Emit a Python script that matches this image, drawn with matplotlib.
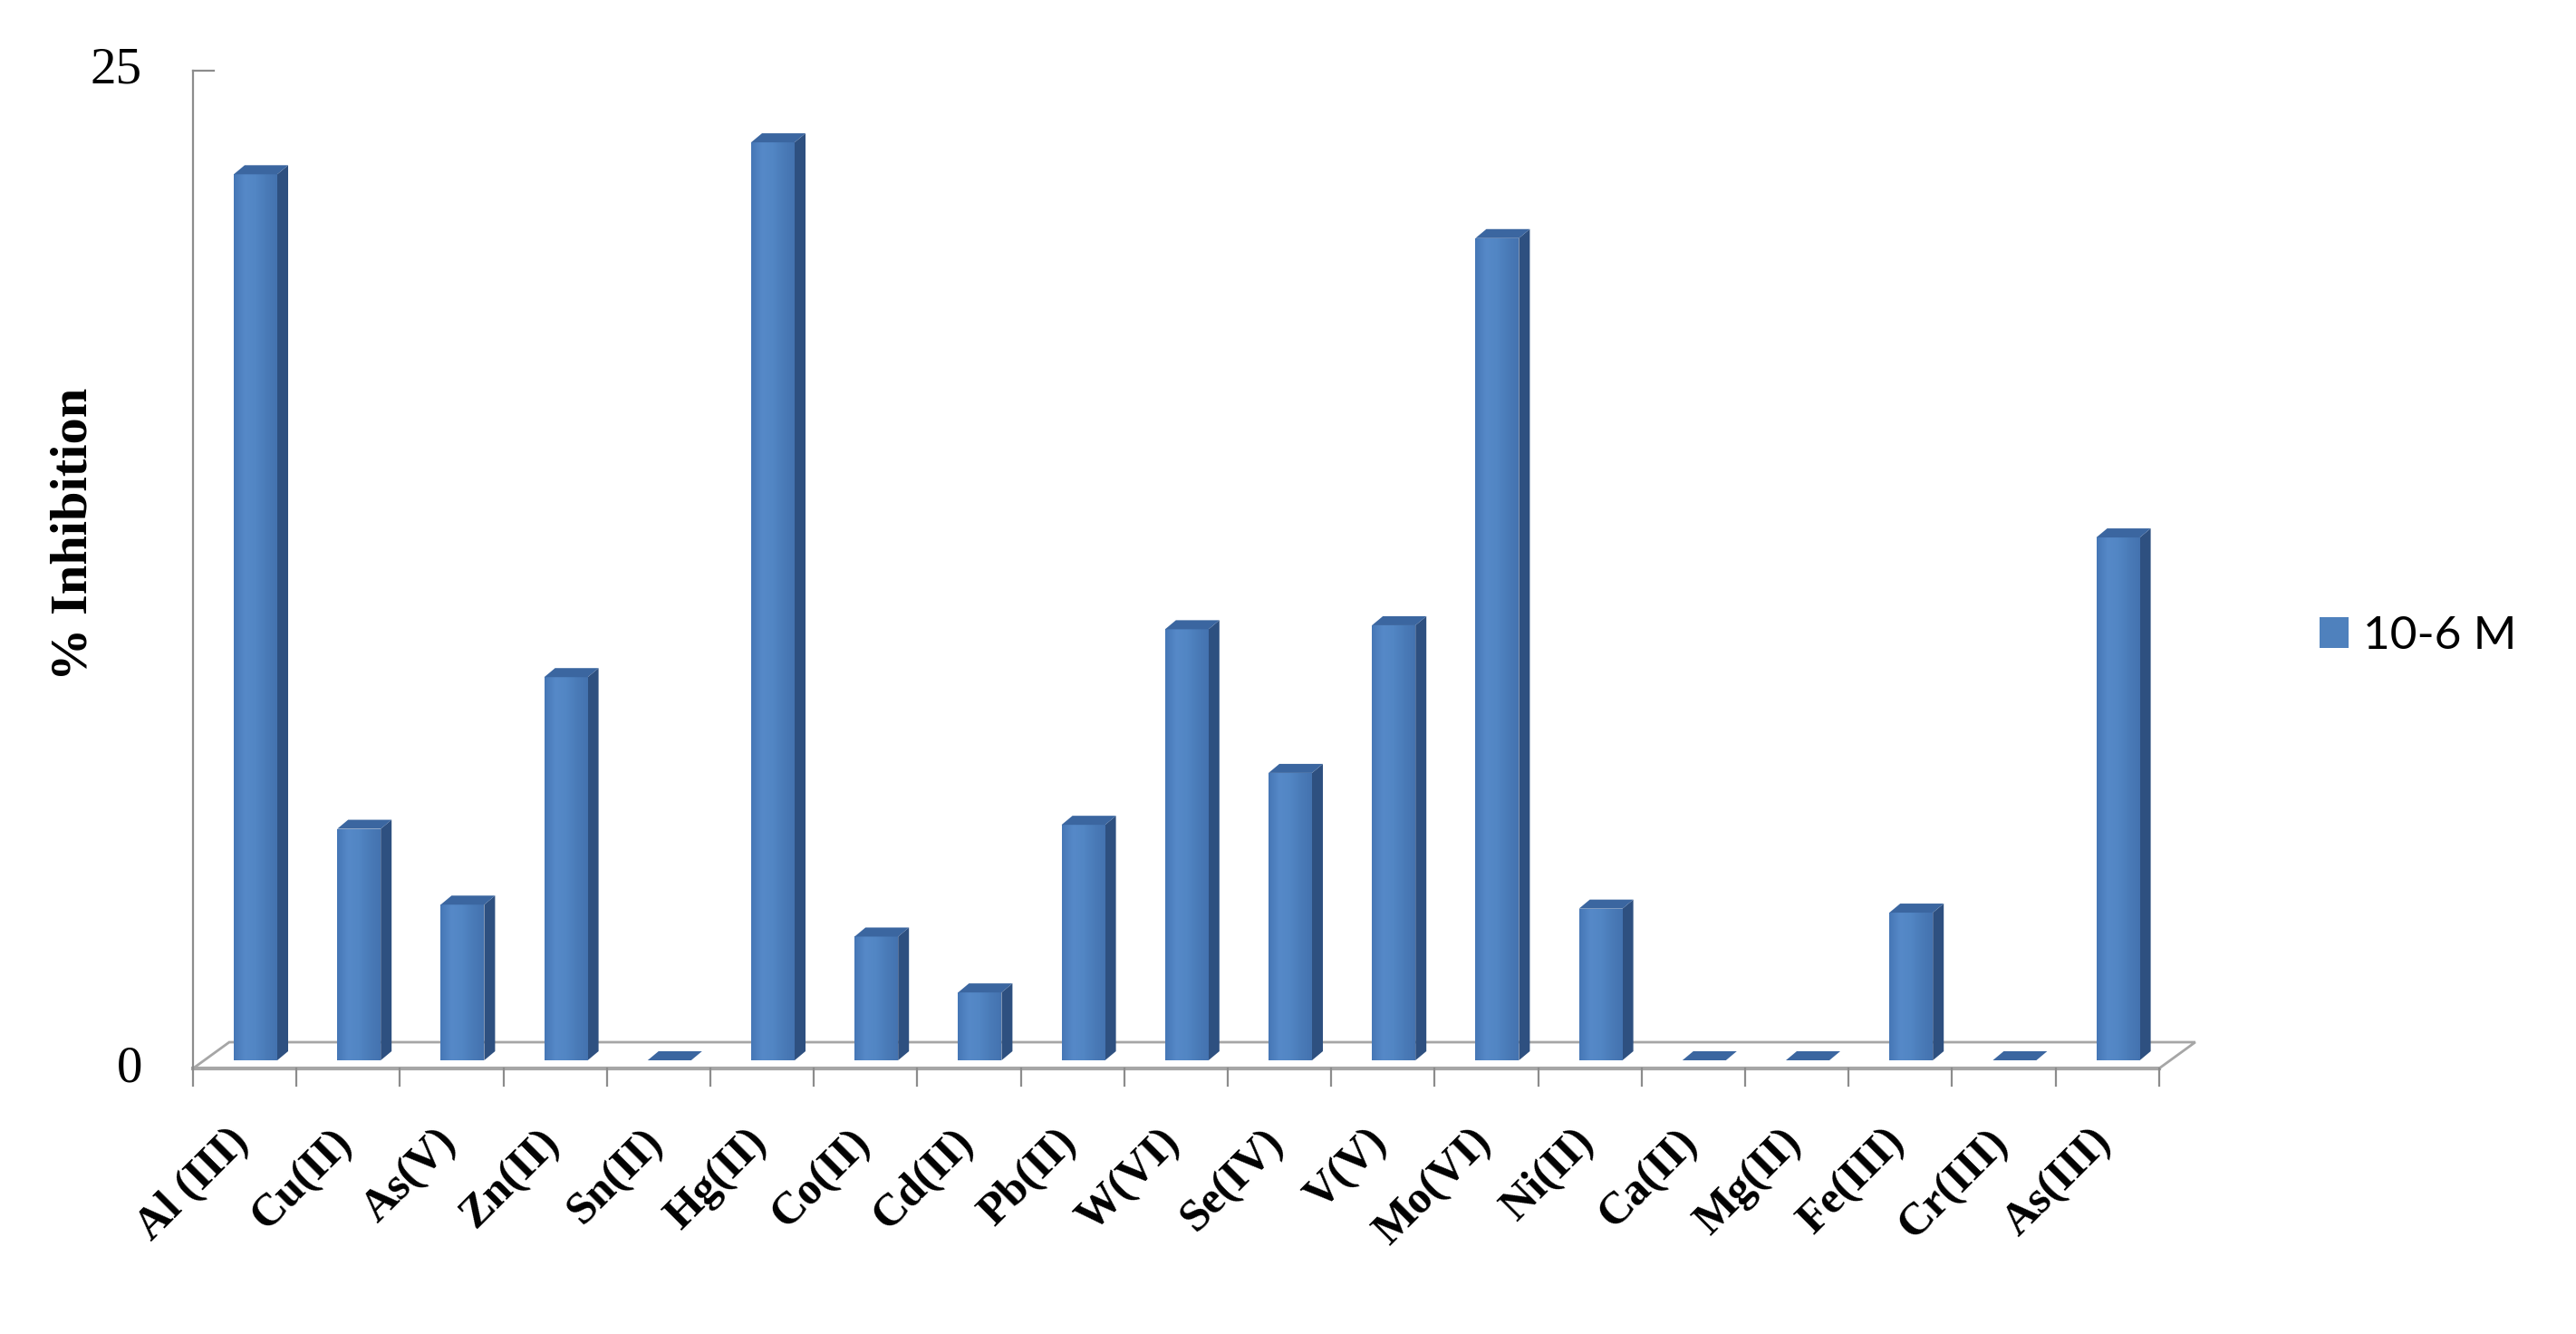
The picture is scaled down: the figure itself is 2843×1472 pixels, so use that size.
import matplotlib
matplotlib.use('Agg')
import matplotlib.pyplot as plt
import numpy as np
from matplotlib.patches import Polygon, Patch
from matplotlib.colors import LinearSegmentedColormap

# data
metals = ['Al (III)', 'Cu(II)', 'As(V)', 'Zn(II)', 'Sn(II)', 'Hg(II)', 'Co(II)',
          'Cd(II)', 'Pb(II)', 'W(VI)', 'Se(IV)', 'V(V)', 'Mo(VI)', 'Ni(II)',
          'Ca(II)', 'Mg(II)', 'Fe(III)', 'Cr(III)', 'As(III)']
inhibition = [22.2, 5.8, 3.9, 9.6, 0.0, 23.0, 3.1, 1.7, 5.9, 10.8, 7.2, 10.9,
              20.6, 3.8, 0.0, 0.0, 3.7, 0.0, 13.1]
y_ticks = [0, 25]
series_name = '10-6 M'

W, H = 2843, 1472
px_x = 114.2   # pixels per category
px_y = 44.04   # pixels per % unit

fig = plt.figure(figsize=(W / 100, H / 100), dpi=100)
ax = fig.add_axes([213 / W, (H - 1179) / H, len(metals) * px_x / W, 25 * px_y / H])
ax.set_xlim(-0.5, len(metals) - 0.5)
ax.set_ylim(0, 25)
ax.axis('off')


def ux(p):
    return p / px_x


def uy(p):
    return p / px_y


serif = 'Liberation Serif'
front_col = '#4F81BD'
side_col = '#2E5080'
top_col = '#3B66A0'
grid_col = '#A6A6A6'
shade = LinearSegmentedColormap.from_list(
    'shade', ['#4677B6', '#5689C8', '#5286C4', '#4A7BB8', '#4473B0'])

# floor (oblique 3d look)
n = len(metals)
fx, fy = ux(40), uy(29)
floor = Polygon([(-0.5, 0), (n - 0.5, 0), (n - 0.5 + fx, fy), (-0.5 + fx, fy)],
                closed=True, facecolor='white', edgecolor=grid_col, lw=2,
                clip_on=False, zorder=1)
ax.add_patch(floor)
ax.plot([-0.5, n - 0.5], [0, 0], color=grid_col, lw=3, clip_on=False, zorder=1)

# value axis line and ticks
ax.plot([-0.5, -0.5], [0, 25], color='#8C8C8C', lw=1.6, clip_on=False, zorder=2)
ax.plot([-0.5, -0.5 + ux(23)], [25, 25], color='#8C8C8C', lw=1.6, clip_on=False)
for k in range(n + 1):
    ax.plot([k - 0.5, k - 0.5], [0, -uy(19)], color='#8C8C8C', lw=1.6,
            clip_on=False, zorder=2)

# bars: front face (shaded) + side + top
base = uy(9)
bw = ux(48)
sdx, sdy = ux(12), uy(10)
xc = [i - 0.5 + ux(45) + bw / 2 for i in range(n)]
bars = ax.bar(xc, inhibition, width=bw, bottom=base, color=front_col, zorder=3)
grad = np.linspace(0, 1, 64).reshape(1, -1)
for rect, x, v in zip(bars, xc, inhibition):
    x0, x1 = x - bw / 2, x + bw / 2
    top = base + v
    if v > 0:
        im = ax.imshow(grad, cmap=shade, aspect='auto', extent=(x0, x1, base, top),
                       zorder=3.1)
        im.set_clip_path(rect)
        ax.add_patch(Polygon([(x1, base), (x1 + sdx, base + sdy), (x1 + sdx, top + sdy),
                              (x1, top)], closed=True, facecolor=side_col,
                             edgecolor='none', zorder=3))
    ax.add_patch(Polygon([(x0, top), (x1, top), (x1 + sdx, top + sdy), (x0 + sdx, top + sdy)],
                         closed=True, facecolor=top_col, edgecolor='none', zorder=3.2))
ax.set_xlim(-0.5, n - 0.5)
ax.set_ylim(0, 25)

# tick labels
for i, name in enumerate(metals):
    ax.text(i + ux(14), -uy(58), name, rotation=45, ha='right', va='top',
            fontsize=36, fontweight='bold', family=serif, clip_on=False)
for t in y_ticks:
    ax.text(-0.5 - ux(56), t, str(t), ha='right', va='center', fontsize=41,
            family=serif, clip_on=False)

fig.text(82 / W, 1 - 589 / H, '% Inhibition', rotation=90, ha='center', va='center',
         fontsize=42, fontweight='bold', family=serif)

handle = Patch(facecolor=front_col, edgecolor='none')
fig.legend([handle], [series_name], loc='center left',
           bbox_to_anchor=(2560 / W, 1 - 702 / H), frameon=False,
           prop={'family': 'Lato', 'size': 37}, handlelength=0.62,
           handleheight=0.62, handletextpad=0.31, borderpad=0, borderaxespad=0)

fig.savefig('out.png', dpi=100, facecolor='white')
